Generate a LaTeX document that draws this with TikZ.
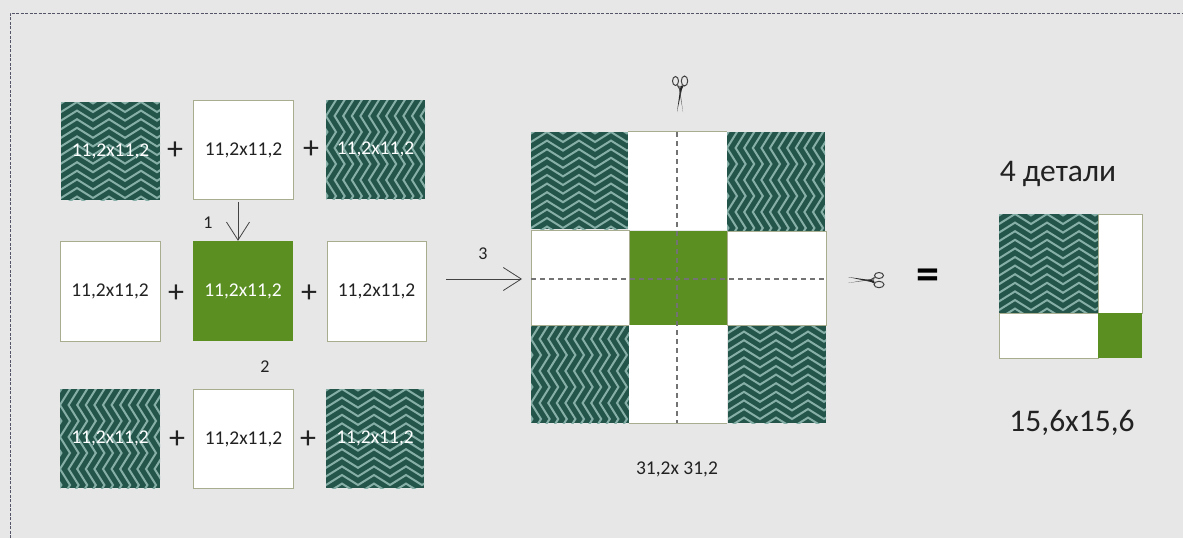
\documentclass[tikz,border=0pt]{standalone}
\usepackage{fontspec}
\setmainfont{Carlito}
\usetikzlibrary{arrows.meta}
\definecolor{bgc}{HTML}{E7E7E7}
\definecolor{darkg}{HTML}{24554B}
\definecolor{lightg}{HTML}{86AFA8}
\definecolor{grn}{HTML}{5B8F22}
\definecolor{edgec}{HTML}{A9AD90}
\definecolor{borderc}{HTML}{55556A}
\definecolor{ink}{HTML}{222222}
\newcommand{\chevh}[6]{%
  \begin{scope}
    \clip (#2,#3) rectangle (#4,#5);
    \fill[darkg] (#2,#3) rectangle (#4,#5);
    \foreach \r in {-3,...,14}{
      \draw[chevline] plot[samples at={-16,0,...,128}] ({#2+\x},{#3+\r*8.6+10*abs(mod(\x+32,32)/16-1)});
    }
  \end{scope}
  \node[patchlabel,minimum width={(#4-#2)*1pt},minimum height={(#5-#3)*1pt}] (#1) at ({(#2+#4)/2},{(#3+#5)/2}) {#6};
}
\newcommand{\chevv}[6]{%
  \begin{scope}
    \clip (#2,#3) rectangle (#4,#5);
    \fill[darkg] (#2,#3) rectangle (#4,#5);
    \foreach \r in {-3,...,14}{
      \draw[chevline] plot[samples at={-16,0,...,128}] ({#2+\r*8.6+10*abs(mod(\x+32,32)/16-1)},{#3+\x});
    }
  \end{scope}
  \node[patchlabel,minimum width={(#4-#2)*1pt},minimum height={(#5-#3)*1pt}] (#1) at ({(#2+#4)/2},{(#3+#5)/2}) {#6};
}
\tikzset{
  chevline/.style={draw=lightg,line width=2pt},
  patchlabel/.style={inner sep=0pt,text=white,font=\fontsize{19.5}{20}\selectfont},
  whitebox/.style={draw=edgec,fill=white,line width=0.9pt,inner sep=0pt,text=ink,font=\fontsize{19.5}{20}\selectfont},
  greenbox/.style={draw=none,fill=grn,inner sep=0pt,text=white,font=\fontsize{19.5}{20}\selectfont},
  plus/.style={inner sep=0pt,text=ink,font=\fontsize{32}{34}\selectfont},
  small/.style={inner sep=0pt,text=ink,font=\fontsize{18}{20}\selectfont},
  dimtext/.style={inner sep=0pt,text=ink,font=\fontsize{19.5}{20}\selectfont},
  big/.style={inner sep=0pt,text=ink,font=\fontsize{31.5}{34}\selectfont},
  openarrow/.style={draw=ink!85,line width=0.8pt,-{Straight Barb[length=18pt,width=23pt,line width=0.8pt]}},
  cutline/.style={draw=black!55,line width=1.2pt,dash pattern=on 5pt off 4pt},
  pics/scissorsicon/.style={code={
    \fill[black!85] (-21,-3) -- (2,2) -- (6,4) -- (5,0.5) -- cycle;
    \fill[black!70] (-21,3) -- (2,-1) -- (6,-3.5) -- (5,-0.5) -- cycle;
    \draw[black!75,line width=1pt,fill=bgc] (10,-4.5) ellipse (4.5pt and 3pt);
    \draw[black!75,line width=1pt,fill=bgc] (10,4.5) ellipse (5pt and 3.2pt);
  }}
}
\begin{document}
\begin{tikzpicture}[x=1pt,y=-1pt]
\useasboundingbox (0,0) rectangle (1183,538);
\fill[bgc] (0,0) rectangle (1183,538);
\draw[borderc,line width=0.7pt,dash pattern=on 3pt off 1.5pt] (10,538) -- (10,13) -- (1183,13);

% left block
\chevh{a1}{61}{102}{160}{200}{11,2x11,2}
\node[whitebox,minimum width=100pt,minimum height=99pt] (a2) at (243.5,150) {11,2x11,2};
\chevv{a3}{326}{100}{425}{199}{\raisebox{-2pt}{11,2x11,2}}
\node[whitebox,minimum width=100pt,minimum height=100pt] (b1) at (110,291.5) {11,2x11,2};
\node[greenbox,minimum width=100pt,minimum height=100pt] (b2) at (243,291) {11,2x11,2};
\node[whitebox,minimum width=99pt,minimum height=100pt] (b3) at (376.5,291.5) {11,2x11,2};
\chevv{c1}{60}{389}{160}{488}{11,2x11,2}
\node[whitebox,minimum width=100pt,minimum height=99pt] (c2) at (243.5,439) {11,2x11,2};
\chevh{c3}{326}{389}{424}{488}{11,2x11,2}

\node[plus] (p1) at (175,151) {+};
\node[plus] (p2) at (311,150) {+};
\node[plus] (p3) at (176,294) {+};
\node[plus] (p4) at (309,294) {+};
\node[plus] (p5) at (177,440) {+};
\node[plus] (p6) at (308,440) {+};

\draw[openarrow] ([xshift=-5.5pt]a2.south) ++(0,2) coordinate (s1) -- (s1 |- b2.north);
\node[small] (n1) at (208,223) {1};
\node[small] (n2) at (265,367) {2};
\node[small] (n3) at (483,254) {3};

% centre block
\chevh{d1}{531}{132}{628}{229}{}
\chevv{d3}{727}{132}{825}{231}{}
\chevv{f1}{531}{323}{629}{423}{}
\chevh{f3}{728}{323}{826}{423}{}
\node[whitebox,draw=none,minimum width=99pt,minimum height=98pt] (d2) at (677.5,181) {};
\node[whitebox,minimum width=98pt,minimum height=95pt] (e1) at (580.5,277.5) {};
\node[whitebox,minimum width=99pt,minimum height=94pt] (e3) at (776.5,278) {};
\node[greenbox,minimum width=97pt,minimum height=94pt] (e2) at (678.5,278) {};
\node[whitebox,draw=none,minimum width=98pt,minimum height=98pt] (f2) at (678,374) {};
\draw[edgec,line width=0.8pt] (f2.south west) -- (f2.south east);
\draw[edgec,line width=0.8pt] (d2.north west) -- (d2.north east);

\coordinate (vt) at (677,132);
\coordinate (vb) at (677,423);
\coordinate (hl) at (531,279);
\coordinate (hr) at (826,279);
\draw[cutline] (vt) -- (vb);
\draw[cutline] (hl) -- (hr);

\coordinate (as) at (446,279);
\draw[openarrow] (as) -- (522,279);

\pic[rotate=90] at (680,91) {scissorsicon};
\pic at (869,280) {scissorsicon};
\node[inner sep=0pt,text=black,font=\bfseries\fontsize{46}{48}\selectfont] (eq) at (928,279) {=};

\node[dimtext] (dim) at (677,469) {31,2x 31,2};

% right block
\chevh{r1}{999}{214}{1098}{313}{}
\node[whitebox,minimum width=44pt,minimum height=99pt] (r2) at (1120,263.5) {};
\node[whitebox,minimum width=99pt,minimum height=45pt] (r3) at (1048.5,335.5) {};
\node[greenbox,minimum width=44pt,minimum height=45pt] (r4) at (1120,335.5) {};

\node[big] (t1) at (1058,174) {4 детали};
\node[big] (t2) at (1072,423) {15,6x15,6};
\end{tikzpicture}
\end{document}
